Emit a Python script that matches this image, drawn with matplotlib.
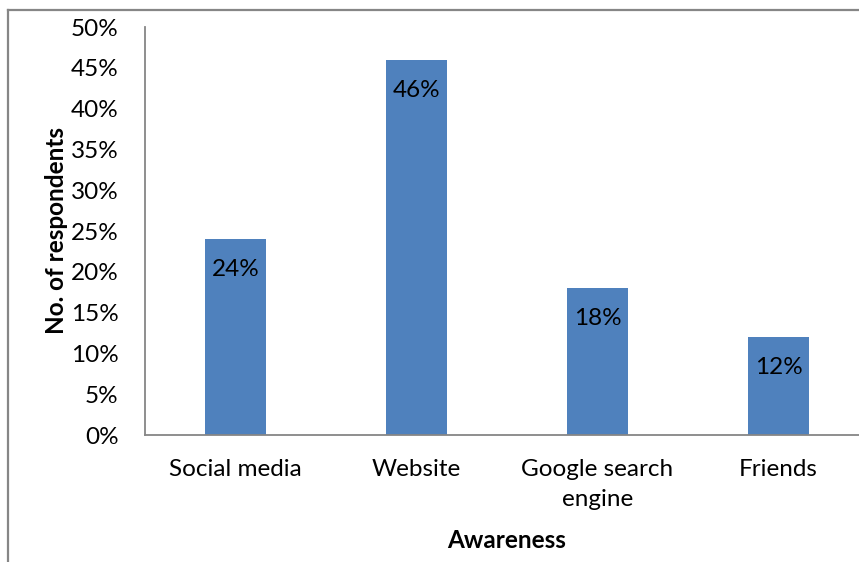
import numpy as np
import matplotlib.pyplot as plt
from matplotlib.lines import Line2D

plt.rcParams['font.family'] = ['Lato', 'DejaVu Sans']

sources = ["Social media", "Website", "Google search\nengine", "Friends"]
share = [24, 46, 18, 12]
yticks = [0, 5, 10, 15, 20, 25, 30, 35, 40, 45, 50]

fs = 17.5

fig = plt.figure(figsize=(8.59, 5.62), dpi=100)
ax = fig.add_axes([145/859, 127/562, 724/859, 408/562])

x = np.arange(len(sources))
bars = ax.bar(x, share, width=0.337, color="#4F81BD", zorder=2)

# value labels sit just under the top of each bar
for b, v in zip(bars, share):
    ax.annotate(f"{v}%", (b.get_x() + b.get_width()/2, v),
                xytext=(0, -22), textcoords="offset points",
                ha="center", va="center", fontsize=fs, color="black")

ax.set_xlim(-0.5, 3.5)
ax.set_ylim(0, 50)
ax.set_yticks(yticks)
ax.set_yticklabels([f"{t}%" for t in yticks], fontsize=fs)
ax.set_xticks(x)
ax.set_xticklabels(sources, fontsize=fs, linespacing=1.55)
ax.tick_params(axis="both", length=0)
ax.tick_params(axis="y", pad=19)
ax.tick_params(axis="x", pad=17)

for s in ["top", "right"]:
    ax.spines[s].set_visible(False)
for s in ["left", "bottom"]:
    ax.spines[s].set_color("#868686")
    ax.spines[s].set_linewidth(1.3)

ax.set_ylabel("No. of respondents", fontsize=fs, fontweight="bold", labelpad=2)
fig.text(507/859, 1 - 541/562, "Awareness", fontsize=fs, fontweight="bold",
         ha="center", va="center")

# outer chart frame
fig.add_artist(Line2D([8/859, 8/859], [0, 1 - 10/562], transform=fig.transFigure,
                      color="#868686", lw=1.6))
fig.add_artist(Line2D([8/859, 1], [1 - 10/562, 1 - 10/562], transform=fig.transFigure,
                      color="#868686", lw=1.6))

fig.savefig("out.png", dpi=100)
